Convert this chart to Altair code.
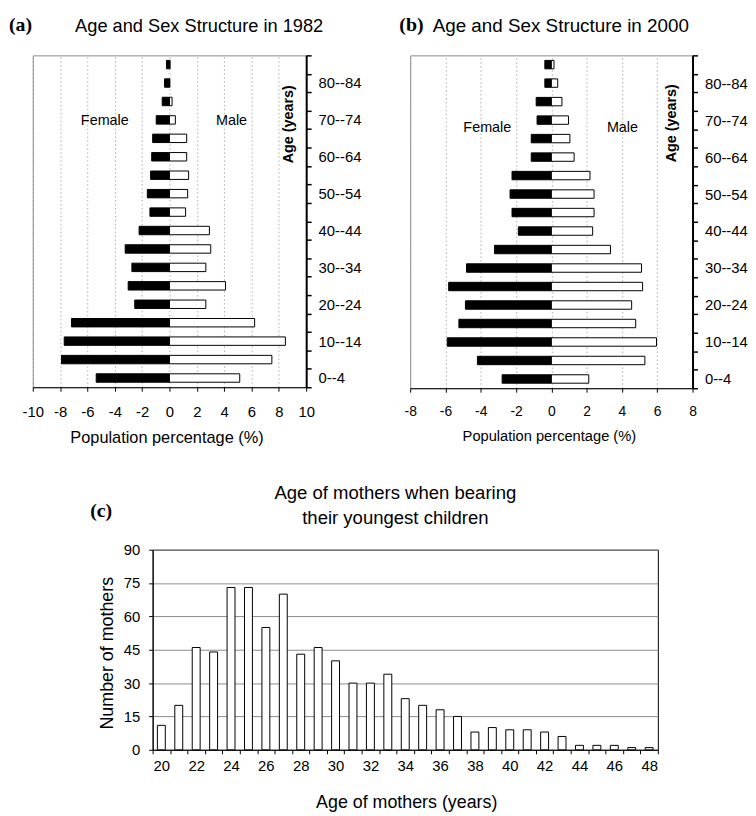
import json
import altair as alt
import pandas as pd

# ---------------- data ----------------
age_groups = ["0--4", "5--9", "10--14", "15--19", "20--24", "25--29", "30--34",
              "35--39", "40--44", "45--49", "50--54", "55--59", "60--64",
              "65--69", "70--74", "75--79", "80--84", "85--89"]
labelled_groups = ["0--4", "10--14", "20--24", "30--34", "40--44", "50--54",
                   "60--64", "70--74", "80--84"]

female_1982 = [5.36, 7.90, 7.70, 7.17, 2.54, 3.02, 2.75, 3.24, 2.22, 1.43,
               1.62, 1.38, 1.30, 1.23, 0.97, 0.53, 0.36, 0.22]
male_1982 = [5.14, 7.49, 8.48, 6.23, 2.66, 4.10, 2.66, 3.02, 2.92, 1.18,
             1.33, 1.40, 1.26, 1.26, 0.43, 0.19, 0.03, 0.05]

female_2000 = [2.79, 4.19, 5.90, 5.24, 4.87, 5.82, 4.81, 3.22, 1.87, 2.23,
               2.34, 2.23, 1.14, 1.14, 0.81, 0.86, 0.37, 0.37]
male_2000 = [2.12, 5.30, 5.96, 4.78, 4.55, 5.17, 5.11, 3.35, 2.34, 2.42,
             2.42, 2.19, 1.29, 1.05, 0.97, 0.60, 0.36, 0.15]

mother_ages = [20, 21, 22, 23, 24, 25, 26, 27, 28, 29, 30, 31, 32, 33, 34,
               35, 36, 37, 38, 39, 40, 41, 42, 43, 44, 45, 46, 47, 48]
mother_counts = [11, 20, 46, 44, 73, 73, 55, 70, 43, 46, 40, 30, 30, 34, 23,
                 20, 18, 15, 8, 10, 9, 9, 8, 6, 2, 2, 2, 1, 1]

FONT = "Liberation Sans"
SERIF = "Liberation Serif"


def pyramid_frame(female, male):
    rows = []
    for g, f, m in zip(age_groups, female, male):
        rows.append({"age": g, "sex": "Female", "value": -f})
        rows.append({"age": g, "sex": "Male", "value": m})
    return pd.DataFrame(rows)


def label(text, x, y, size, font=FONT, weight="normal", align="center"):
    """A fixed-position annotation text (titles, panel tags)."""
    return alt.Chart(pd.DataFrame({"t": [text]})).mark_text(
        font=font, fontWeight=weight, fontSize=size, align=align,
        baseline="alphabetic", color="black").encode(
        x=alt.value(x), y=alt.value(y), text="t:N")


age_desc = age_groups[::-1]
age_label_expr = ("indexof(" + json.dumps(labelled_groups) +
                  ", datum.value) >= 0 ? datum.label : ''")


def pyramid(df, notes, dom, label_size, xtitle_size, xlabel_pad, xtitle_x,
            xtitle_y, ytitle_x, ytitle_y, title_text, title_size, title_x,
            tag, tag_x, w, h):
    ticks = list(range(-dom, dom + 1, 2))
    xaxis = alt.Axis(values=ticks, tickCount=len(ticks) + 2,
                     labelExpr="'' + datum.value", labelOverlap=False,
                     labelFlush=False,
                     labelFont=FONT, labelFontSize=label_size, labelColor="black",
                     labelBaseline="alphabetic", labelPadding=xlabel_pad,
                     tickSize=4, tickColor="black", tickWidth=1,
                     domainColor="black", domainWidth=1,
                     grid=True, gridColor="#9a9a9a", gridDash=[1.5, 2.5],
                     gridWidth=0.8,
                     title="Population percentage (%)", titleFont=FONT,
                     titleFontSize=xtitle_size, titleFontWeight="normal",
                     titleColor="black", titleX=xtitle_x, titleY=xtitle_y,
                     titleBaseline="alphabetic", titleAlign="center")
    yaxis = alt.Axis(orient="right", tickBand="extent", labelExpr=age_label_expr,
                     labelOverlap=False,
                     labelFont=FONT, labelFontSize=15, labelColor="black",
                     labelPadding=7, tickSize=5, tickWidth=1.5, tickColor="black",
                     domainColor="black", domainWidth=2, grid=False,
                     title="Age (years)", titleFont=FONT, titleFontSize=14.5,
                     titleFontWeight="bold", titleColor="black", titleAngle=270,
                     titleX=ytitle_x, titleY=ytitle_y, titleBaseline="middle",
                     titleAlign="center")
    xenc = alt.X("value:Q", scale=alt.Scale(domain=[-dom, dom], nice=False),
                 axis=xaxis)
    yenc = alt.Y("age:N", scale=alt.Scale(domain=age_desc, paddingInner=0,
                                          paddingOuter=0), axis=yaxis)
    bars = alt.Chart(df).mark_bar(height=8.5, stroke="black", strokeWidth=1).encode(
        x=xenc, y=yenc,
        color=alt.Color("sex:N", scale=alt.Scale(domain=["Female", "Male"],
                                                 range=["black", "white"]),
                        legend=None),
    )
    txt = alt.Chart(notes).mark_text(font=FONT, fontSize=14.5, color="black",
                                     dy=float(notes["dy"].iloc[0])).encode(
        x=xenc, y=yenc, text="label:N")
    return alt.layer(
        bars, txt,
        label(tag, tag_x, -25, 20, font=SERIF, weight="bold", align="left"),
        label(title_text, title_x, -24, title_size),
    ).properties(
        width=w, height=h,
        view=alt.ViewBackground(stroke="#8a8a8a", strokeWidth=1),
    )


notes_a = pd.DataFrame({"age": ["70--74", "70--74"], "value": [-4.73, 4.54],
                        "label": ["Female", "Male"], "dy": [1, 1]})
notes_b = pd.DataFrame({"age": ["70--74", "70--74"], "value": [-3.63, 4.03],
                        "label": ["Female", "Male"], "dy": [8, 8]})

chart_a = pyramid(pyramid_frame(female_1982, male_1982), notes_a, 10, 15, 16.5,
                  26, 135, 56, -18, 69, "Age and Sex Structure in 1982", 18.4, 168,
                  "(a)", -24, 276, 335)
chart_b = pyramid(pyramid_frame(female_2000, male_2000), notes_b, 8, 14, 14.8,
                  24, 140, 53, -21, 68, "Age and Sex Structure in 2000", 19, 152,
                  "(b)", -11, 285, 336)

# ---------------- panel (c) ----------------
c_df = pd.DataFrame({"age": mother_ages, "count": mother_counts})
bars_c = alt.Chart(c_df).mark_bar(width=8, fill="white", stroke="black",
                                  strokeWidth=1).encode(
    x=alt.X("age:O", scale=alt.Scale(paddingInner=0, paddingOuter=0),
            axis=alt.Axis(labelAngle=0, tickBand="extent", labelOverlap=False,
                          labelExpr="datum.value % 2 == 0 ? datum.label : ''",
                          labelFont=FONT, labelFontSize=15, labelColor="black",
                          labelBaseline="alphabetic", labelPadding=17,
                          tickSize=4, tickColor="black", domainColor="black",
                          grid=False, title="Age of mothers  (years)",
                          titleFont=FONT, titleFontSize=18,
                          titleFontWeight="normal", titleColor="black",
                          titleX=256, titleY=58, titleBaseline="alphabetic",
                          titleAlign="center")),
    y=alt.Y("count:Q", scale=alt.Scale(domain=[0, 90], nice=False),
            axis=alt.Axis(values=[0, 15, 30, 45, 60, 75, 90], tickCount=10,
                          grid=True,
                          gridColor="#8c8c8c", gridWidth=1, labelOverlap=False,
                          labelFont=FONT, labelFontSize=15, labelColor="black",
                          labelPadding=9, tickSize=4, tickColor="black",
                          domainColor="black", title="Number of mothers",
                          titleFont=FONT, titleFontSize=18,
                          titleFontWeight="normal", titleColor="black",
                          titleAngle=270, titleX=-46, titleY=104,
                          titleBaseline="middle", titleAlign="center")),
)
chart_c = alt.layer(
    bars_c,
    label("(c)", -63, -33, 20, font=SERIF, weight="bold", align="left"),
    label("Age of mothers when bearing", 245, -51, 18.7),
    label("their youngest children", 245, -26, 18.7),
).properties(
    width=510, height=202,
    view=alt.ViewBackground(stroke="black", strokeWidth=1),
)

spacer = alt.Chart(pd.DataFrame({"t": [""]})).mark_text().encode(
    x=alt.value(0), y=alt.value(0), text="t:N").properties(
    width=96, height=10, view=alt.ViewBackground(stroke="transparent"))

row1 = alt.hconcat(chart_a, chart_b, spacing=105, bounds="flush")
row2 = alt.hconcat(spacer, chart_c, spacing=25, bounds="flush")

chart = alt.vconcat(row1, row2, spacing=37).properties(
    padding={"left": 0, "top": 2, "right": 0, "bottom": 0},
    background="white",
)

chart.save("out.html", embed_options={"renderer": "svg", "actions": False})
